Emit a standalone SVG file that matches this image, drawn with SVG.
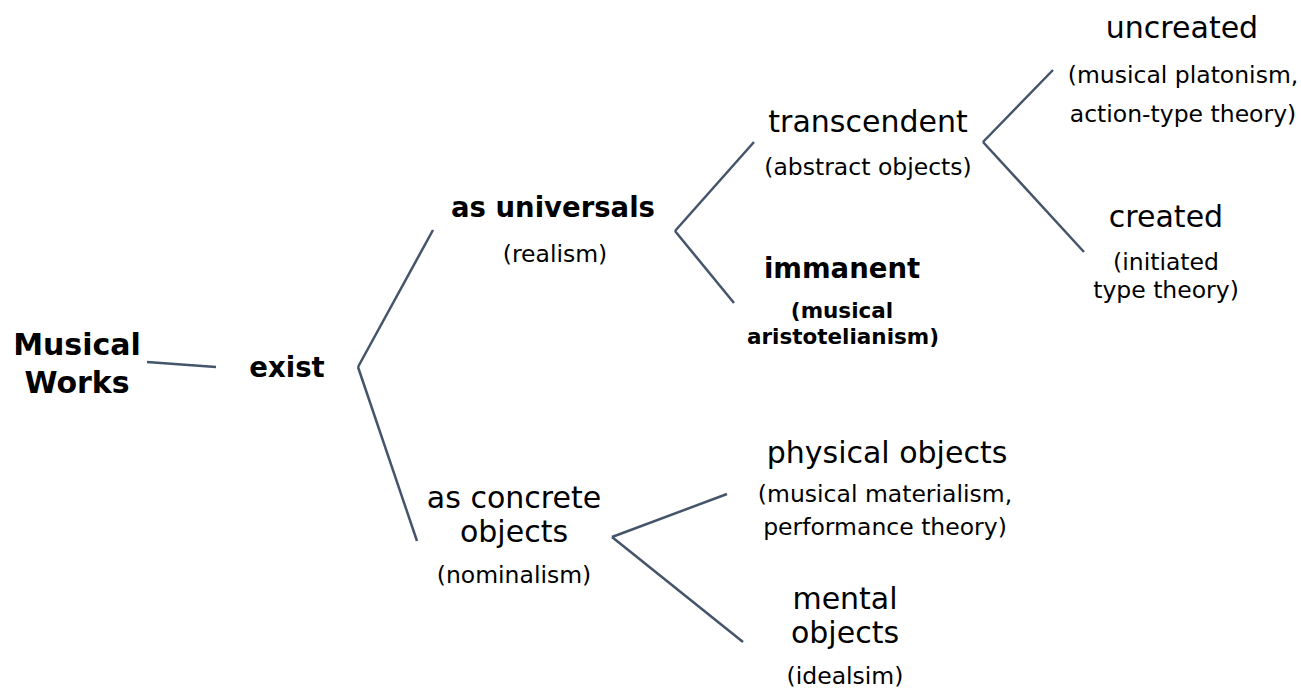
<svg xmlns="http://www.w3.org/2000/svg" width="1301" height="697" viewBox="0 0 1301 697">
<style>
text{font-family:"DejaVu Sans","Liberation Sans",sans-serif;fill:#000;text-anchor:middle}
.big{font-size:30px;font-weight:bold}
.b1{font-size:27.5px;font-weight:bold}
.main{font-size:30px}
.sub{font-size:23.5px}
.bsub{font-size:21.5px;font-weight:bold}
.conn line{stroke:#44546A;stroke-width:2.5;fill:none}
</style>
<rect width="1301" height="697" fill="#fff"/>
<g class="conn" id="connectors">
<line x1="147" y1="362" x2="216" y2="367"/>
<line x1="433" y1="230" x2="358" y2="367"/>
<line x1="358" y1="367" x2="417" y2="541"/>
<line x1="754" y1="142" x2="675" y2="231"/>
<line x1="675" y1="231" x2="734" y2="303"/>
<line x1="1053" y1="70" x2="983" y2="142"/>
<line x1="983" y1="142" x2="1084" y2="252"/>
<line x1="727" y1="494" x2="612" y2="537"/>
<line x1="612" y1="537" x2="743" y2="642"/>
</g>
<g id="musical-works"><text class="big" x="77" y="355">Musical<tspan x="77" y="393">Works</tspan></text></g>
<g id="exist"><text class="b1" x="287" y="377">exist</text></g>
<g id="as-universals"><text class="b1" x="553" y="217">as universals</text><text class="sub" x="555" y="262">(realism)</text></g>
<g id="transcendent"><text class="main" x="868" y="132">transcendent</text><text class="sub" x="868" y="175">(abstract objects)</text></g>
<g id="immanent"><text class="b1" x="842" y="278">immanent</text><text class="bsub" x="842" y="318">(musical<tspan x="843" y="344">aristotelianism)</tspan></text></g>
<g id="uncreated"><text class="main" x="1182" y="38">uncreated</text><text class="sub" x="1183" y="83">(musical platonism,</text><text class="sub" x="1183" y="122">action-type theory)</text></g>
<g id="created"><text class="main" x="1166" y="227">created</text><text class="sub" x="1166" y="270">(initiated<tspan x="1166" y="298">type theory)</tspan></text></g>
<g id="as-concrete-objects"><text class="main" x="514" y="508">as concrete<tspan x="514" y="542">objects</tspan></text><text class="sub" x="514" y="583">(nominalism)</text></g>
<g id="physical-objects"><text class="main" x="887" y="463">physical objects</text><text class="sub" x="885" y="502">(musical materialism,</text><text class="sub" x="885" y="535">performance theory)</text></g>
<g id="mental-objects"><text class="main" x="845" y="609">mental<tspan x="845" y="643">objects</tspan></text><text class="sub" x="845" y="684">(idealsim)</text></g>
</svg>
